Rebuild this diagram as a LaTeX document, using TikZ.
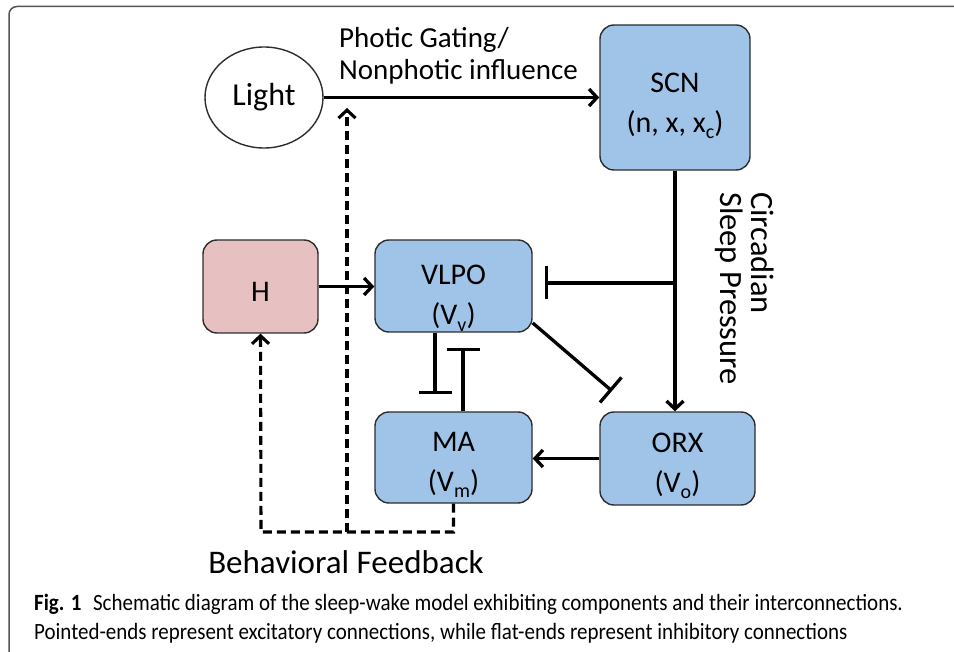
\documentclass[tikz,border=0pt]{standalone}
\usepackage{fontspec}
\setmainfont{Carlito}
\newfontfamily\capfont[FakeStretch=0.9]{Carlito}
\usetikzlibrary{arrows.meta, positioning, calc, shapes.geometric}

\definecolor{boxblue}{RGB}{160,196,232}
\definecolor{boxpink}{RGB}{231,193,194}
\definecolor{edgegray}{RGB}{45,45,45}
\definecolor{framegray}{RGB}{85,85,85}

% lowered subscript as in the figure
\newcommand\lowsub[1]{\raisebox{-0.42ex}{\fontsize{20}{20}\selectfont #1}}
% pushes box text a bit lower
\newcommand\topstrut[1]{\rule{0pt}{#1}}

\begin{document}
\begin{tikzpicture}[
    x=1pt, y=-1pt,
    block/.style={rectangle, draw=edgegray, line width=1.4pt, rounded corners=14pt, fill=boxblue, align=center, inner sep=0pt, font=\fontsize{30}{40}\selectfont},
    arrow/.style={-{Straight Barb[length=8pt, width=17pt]}, line width=3.3pt},
    inhib/.style={-{Bar[width=33pt]}, line width=3.3pt},
    fbarrow/.style={arrow, line width=3.1pt, dash pattern=on 9pt off 5pt},
    lbl/.style={inner sep=0pt, font=\fontsize{29}{32}\selectfont}
]
\useasboundingbox (0,0) rectangle (954,652);
% outer frame
\draw [framegray, line width=1.5pt, rounded corners=8pt] (960,6.5) -| (9,660) -- (30,660);

% nodes
\node (light) [ellipse, draw=edgegray, line width=1.4pt, minimum width=118pt, minimum height=101pt, inner sep=0pt, font=\fontsize{32}{36}\selectfont] at (264,97.5) {Light};
\node (scn) [block, minimum width=150pt, minimum height=145pt] at (675,97.5) {\topstrut{36pt}SCN\\(n, x, x\lowsub{c})};
\node (h) [block, fill=boxpink, minimum width=115pt, minimum height=93pt] at (260.5,286.5) {\topstrut{30pt}H};
\node (vlpo) [block, minimum width=157pt, minimum height=92pt] at (453.5,286) {\topstrut{44pt}VLPO\\(V\lowsub{v})};
\node (ma) [block, minimum width=157pt, minimum height=91pt] at (453.5,457.5) {\topstrut{34pt}MA\\(V\lowsub{m})};
\node (orx) [block, minimum width=155pt, minimum height=93pt] at (677.5,458.5) {\topstrut{34pt}ORX\\(V\lowsub{o})};

% labels
\node (gatelbl) [lbl, anchor=south west, align=left] at (339,84) {Photic Gating/\\Nonphotic influence};
\node (circlbl) [lbl, font=\fontsize{32.5}{31}\selectfont, rotate=-90, anchor=north west, align=left] at (774,192) {Circadian\\Sleep Pressure};
\node (fblbl) [inner sep=0pt, font=\fontsize{33}{36}\selectfont] at (346,562) {Behavioral Feedback};
\node (caption) [inner sep=0pt, anchor=west, align=left, font=\capfont\fontsize{23.3}{29}\selectfont] at (34,619) {\textbf{Fig. 1}\enspace Schematic diagram of the sleep-wake model exhibiting components and their interconnections.\\Pointed-ends represent excitatory connections, while flat-ends represent inhibitory connections};

% connector ends
\coordinate (jct) at (675,283);
\coordinate (vlpobar) at (545,283);
\coordinate (vmbar) at (435,394);
\coordinate (mvbar) at (463,348);
\coordinate (vobar) at (612,391);
\coordinate (fbcorner) at (261,532);
\coordinate (fbsplit) at (347,532);
\coordinate (gatetip) at (347,108);

% excitatory
\draw [arrow] (light.east) -- (light.east -| scn.west);
\draw [arrow] (scn.south) -- (scn.south |- orx.north);
\draw [arrow] (h.east) -- (h.east -| vlpo.west);
\draw [arrow] (orx.west) -- (orx.west -| ma.east);

% inhibitory
\draw [inhib] (jct) -- (vlpobar);
\draw [inhib] (vlpo.south -| vmbar) -- (vmbar);
\draw [inhib] (ma.north -| mvbar) -- (mvbar);
\draw [inhib] (vlpo.-25) -- (vobar);

% behavioral feedback
\draw [fbarrow] (ma.south) |- (fbcorner) -- (h.south);
\draw [fbarrow] (fbsplit) -- (gatetip);

\end{tikzpicture}
\end{document}
